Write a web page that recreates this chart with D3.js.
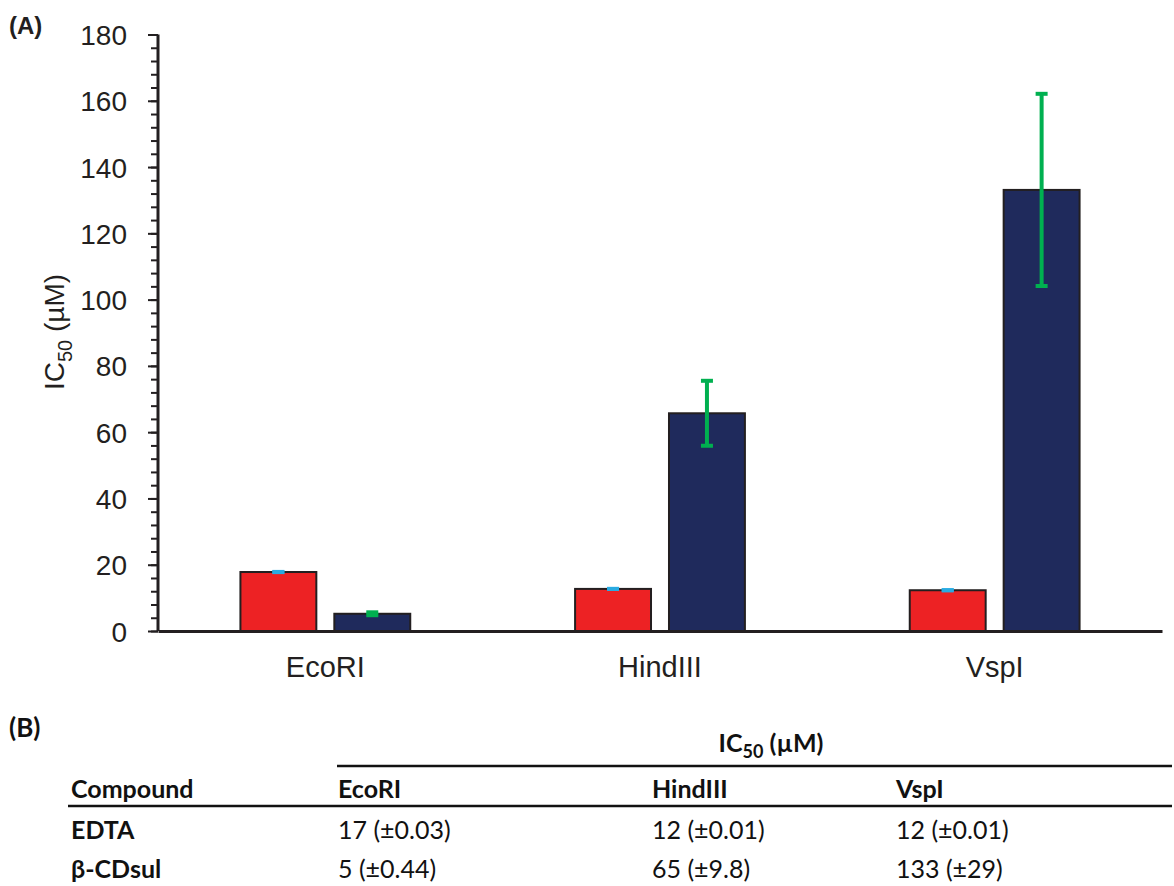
<!DOCTYPE html>
<html>
<head>
<meta charset="utf-8">
<script src="https://cdn.jsdelivr.net/npm/d3@7"></script>
<style>
  body { margin: 0; background: #fff; }
  svg { display: block; }
</style>
</head>
<body>
<svg id="chart"></svg>
<script>
// ---- data ----
const enzymes = ['EcoRI', 'HindIII', 'VspI'];
const compounds = ['EDTA', 'β-CDsul'];
const edtaValues = [17.8, 12.7, 12.3];
const edtaErrors = [0.03, 0.01, 0.01];
const cdValues = [5.2, 65.7, 133.1];
const cdErrors = [0.44, 9.8, 29];
const yTicks = [0, 20, 40, 60, 80, 100, 120, 140, 160, 180];

const tableCompounds = ['EDTA', 'β-CDsul'];
const tableEdta = ['17 (±0.03)', '12 (±0.01)', '12 (±0.01)'];
const tableCd = ['5 (±0.44)', '65 (±9.8)', '133 (±29)'];

const width = 1174, height = 886;
const svg = d3.select('#chart').attr('width', width).attr('height', height);

const barFill = { 'EDTA': '#ED2224', 'β-CDsul': '#1F2A5C' };
const errColor = { 'EDTA': '#29ABE2', 'β-CDsul': '#00B050' };
const sans = 'Liberation Sans, Arial, sans-serif';

// ---- scales ----
const x = d3.scaleBand().domain(enzymes).range([158, 1162]);
const xs = d3.scaleBand().domain(compounds).range([0, x.bandwidth()])
  .paddingInner(0.1915).paddingOuter(0.8777);
const y = d3.scaleLinear().domain([0, 180]).range([631, 34.5]);

const rows = [];
enzymes.forEach((e, i) => {
  rows.push({ enzyme: e, compound: 'EDTA', value: edtaValues[i], err: edtaErrors[i] });
  rows.push({ enzyme: e, compound: 'β-CDsul', value: cdValues[i], err: cdErrors[i] });
});

// panel label
svg.append('text').attr('x', 9).attr('y', 34)
  .style('font-family', sans)
  .style('font-weight', 'bold').style('font-size', '24px').attr('fill', '#231F20').text('(A)');

// bars
svg.append('g').selectAll('rect')
  .data(rows).enter().append('rect')
  .attr('x', d => x(d.enzyme) + xs(d.compound))
  .attr('y', d => y(d.value))
  .attr('width', xs.bandwidth())
  .attr('height', d => y(0) - y(d.value))
  .attr('fill', d => barFill[d.compound])
  .attr('stroke', '#231F20')
  .attr('stroke-width', 2);

// error bars
const cx = d => x(d.enzyme) + xs(d.compound) + xs.bandwidth() / 2;
const eb = svg.append('g').selectAll('g').data(rows).enter().append('g')
  .attr('stroke', d => errColor[d.compound])
  .attr('stroke-width', 4);
eb.append('line')
  .attr('x1', cx).attr('x2', cx)
  .attr('y1', d => y(d.value + d.err))
  .attr('y2', d => y(d.value - d.err));
eb.selectAll('line.cap').data(d => [d.value + d.err, d.value - d.err].map(v => ({ d, v })))
  .enter().append('line').attr('class', 'cap')
  .attr('x1', o => cx(o.d) - 6)
  .attr('x2', o => cx(o.d) + 6)
  .attr('y1', o => y(o.v)).attr('y2', o => y(o.v));

// y axis: minor then major
svg.append('g').attr('transform', 'translate(158,0)')
  .call(d3.axisLeft(y).tickValues(d3.range(0, 181, 4)).tickSize(7).tickFormat(''))
  .call(g => g.select('.domain').remove())
  .call(g => g.selectAll('line').attr('stroke', '#231F20').attr('stroke-width', 2));

const yAxis = svg.append('g').attr('transform', 'translate(158,0)')
  .call(d3.axisLeft(y).tickValues(yTicks).tickSize(10).tickSizeOuter(0).tickPadding(21));
yAxis.select('.domain').attr('stroke', '#231F20').attr('stroke-width', 3)
  .attr('d', `M0,${y(180)}V${y(0)}`);
yAxis.selectAll('line').attr('stroke', '#231F20').attr('stroke-width', 2);
yAxis.selectAll('text').attr('fill', '#231F20')
  .style('font-family', sans).style('font-size', '28px')
  .attr('dy', '0.36em');

// x axis baseline + labels
const xAxis = svg.append('g').attr('transform', `translate(0,${y(0)})`)
  .call(d3.axisBottom(x).tickSize(0).tickPadding(25));
xAxis.select('.domain').attr('stroke', '#231F20').attr('stroke-width', 3);
xAxis.selectAll('text').attr('fill', '#231F20')
  .style('font-family', sans).style('font-size', '29px');

// y axis title
const yt = svg.append('text')
  .attr('transform', 'translate(64,332) rotate(-90)')
  .attr('text-anchor', 'middle')
  .attr('fill', '#231F20')
  .style('font-family', sans).style('font-size', '28px');
yt.append('tspan').text('IC');
yt.append('tspan').attr('dy', 8).style('font-size', '20px').text('50');
yt.append('tspan').attr('dy', -8).text(' (µM)');

// ---- table (B) ----
const tfont = 'Lato, Calibri, "Open Sans", sans-serif';
svg.append('text').attr('x', 9).attr('y', 737)
  .style('font-family', tfont).style('font-weight', 'bold').style('font-size', '26px')
  .attr('fill', '#111').text('(B)');

const colX = d3.scaleOrdinal().domain(['Compound'].concat(enzymes)).range([71, 338, 652, 896]);

const hdr = svg.append('text').attr('x', 771).attr('y', 752).attr('text-anchor', 'middle')
  .attr('fill', '#111')
  .style('font-family', tfont).style('font-weight', 'bold').style('font-size', '25px');
hdr.append('tspan').text('IC');
hdr.append('tspan').attr('dy', 6).style('font-size', '18px').text('50');
hdr.append('tspan').attr('dy', -6).text(' (µM)');

svg.append('line').attr('x1', 337).attr('x2', 1172).attr('y1', 766).attr('y2', 766)
  .attr('stroke', '#111').attr('stroke-width', 2.5);
svg.append('line').attr('x1', 68).attr('x2', 1172).attr('y1', 806).attr('y2', 806)
  .attr('stroke', '#111').attr('stroke-width', 2.5);

svg.append('g').selectAll('text').data(['Compound'].concat(enzymes)).enter().append('text')
  .attr('x', d => colX(d)).attr('y', 798)
  .style('font-family', tfont).style('font-weight', 'bold').style('font-size', '25px')
  .attr('fill', '#111').text(d => d);

const tableRows = [
  { name: tableCompounds[0], cells: tableEdta, y: 839 },
  { name: tableCompounds[1], cells: tableCd, y: 878 }
];
tableRows.forEach(r => {
  svg.append('text').attr('x', colX('Compound')).attr('y', r.y)
    .style('font-family', tfont).style('font-weight', 'bold').style('font-size', '25px')
    .attr('fill', '#111').text(r.name);
  svg.append('g').selectAll('text').data(r.cells).enter().append('text')
    .attr('x', (d, i) => colX(enzymes[i])).attr('y', r.y)
    .style('font-family', tfont).style('font-size', '25px')
    .attr('fill', '#111').text(d => d);
});
</script>
</body>
</html>
